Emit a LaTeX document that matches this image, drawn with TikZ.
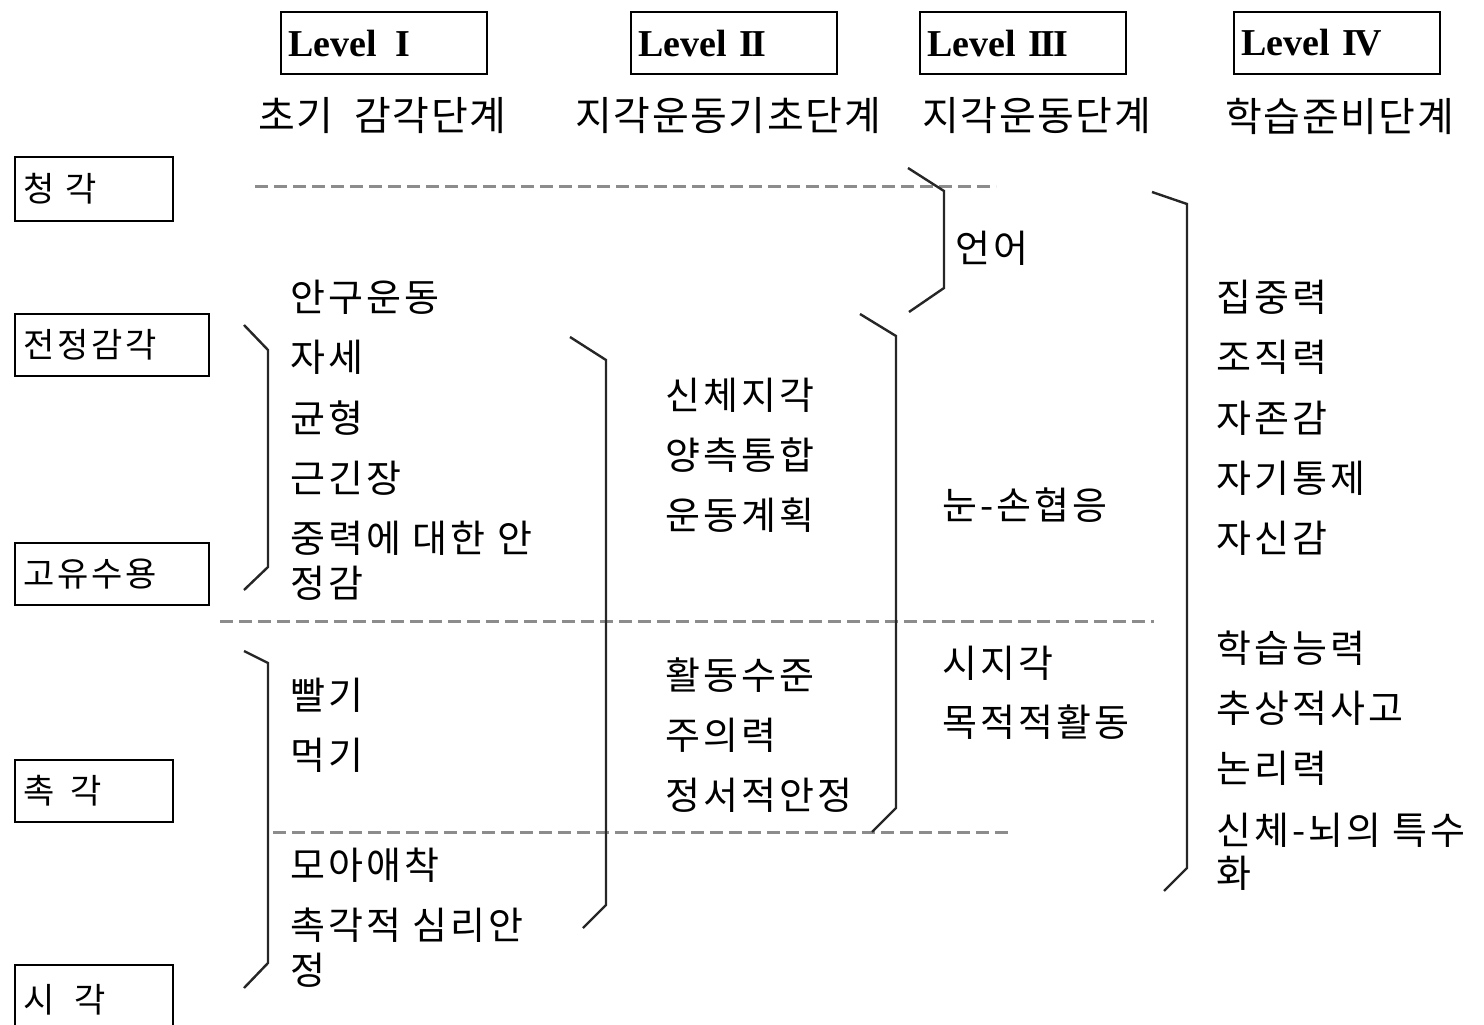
\documentclass[tikz,border=0pt]{standalone}
\usepackage{fontspec}
\setmainfont{Liberation Serif}
\newfontfamily\krb[WordSpace=2.2,LetterSpace=8]{Noto Sans CJK KR}
\newfontfamily\krh[WordSpace=2,LetterSpace=4]{Noto Sans CJK KR}
\newfontfamily\krs[LetterSpace=8]{Noto Sans CJK KR}
\begin{document}
\begin{tikzpicture}[x=1pt,y=-1pt,
  lvbox/.style={draw, line width=2.2pt, anchor=north west, minimum width=206pt, minimum height=62pt,
    text width=192pt, align=left, inner xsep=7pt, inner ysep=0pt,
    font=\bfseries\fontsize{38}{38}\selectfont},
  sbox/.style={draw, line width=2.2pt, anchor=north west, minimum height=64pt,
    align=left, inner xsep=8pt, inner ysep=0pt, font=\krs\fontsize{34}{34}\selectfont},
  hdr/.style={anchor=west, inner sep=0pt, font=\krh\fontsize{40}{40}\selectfont},
  body/.style={anchor=west, inner sep=0pt, font=\krb\fontsize{38}{38}\selectfont},
  dline/.style={draw=black!45, line width=3pt, dash pattern=on 13pt off 6pt},
  brk/.style={draw=black!85, line width=2.4pt, line join=miter}]
\useasboundingbox (0,0) rectangle (1484,1025);

% level boxes
\node[lvbox] (L1) at (280,11) {Level\hspace{0.5em}I};
\node[lvbox] (L2) at (630,11) {Level I\kern-0.06em I};
\node[lvbox] (L3) at (919,11) {Level I\kern-0.06em I\kern-0.06em I};
\node[lvbox] (L4) at (1233,11) {Level I\kern-0.08em V};

% headers
\node[hdr] (H1) at (258,116) {초기 감각단계};
\node[hdr] (H2) at (575,116) {지각운동기초단계};
\node[hdr] (H3) at (922,116) {지각운동단계};
\node[hdr] (H4) at (1225,116) {학습준비단계};

% sense boxes
\node[sbox, text width=142pt] (S1) at (14,156) {청 각};
\node[sbox, text width=178pt, minimum height=62pt] (S2) at (14,313) {전정감각};
\node[sbox, text width=178pt, minimum height=62pt] (S3) at (14,542) {고유수용};
\node[sbox, text width=142pt, minimum height=62pt] (S4) at (14,759) {촉\hspace{16pt}각};
\node[sbox, text width=142pt, minimum height=70pt] (S5) at (14,964) {시\hspace{20pt}각};

% dashed lines
\coordinate (d1a) at (255,186); \coordinate (d1b) at (996,186);
\coordinate (d2a) at (220,621); \coordinate (d2b) at (1154,621);
\coordinate (d3a) at (273,832); \coordinate (d3b) at (1013,832);
\draw[dline] (d1a) -- (d1b);
\draw[dline] (d2a) -- (d2b);
\draw[dline] (d3a) -- (d3b);

% brackets
\coordinate (a1) at (244,325); \coordinate (a2) at (268,350);
\coordinate (a3) at (268,567); \coordinate (a4) at (244,590);
\draw[brk] (a1) -- (a2) -- (a3) -- (a4);
\coordinate (b1) at (244,651); \coordinate (b2) at (268,663);
\coordinate (b3) at (268,963); \coordinate (b4) at (244,988);
\draw[brk] (b1) -- (b2) -- (b3) -- (b4);
\coordinate (c1) at (570,337); \coordinate (c2) at (606,360);
\coordinate (c3) at (606,905); \coordinate (c4) at (583,928);
\draw[brk] (c1) -- (c2) -- (c3) -- (c4);
\coordinate (e1) at (860,314); \coordinate (e2) at (896,336);
\coordinate (e3) at (896,808); \coordinate (e4) at (872,832);
\draw[brk] (e1) -- (e2) -- (e3) -- (e4);
\coordinate (f1) at (908,168); \coordinate (f2) at (944,191);
\coordinate (f3) at (944,288); \coordinate (f4) at (909,312);
\draw[brk] (f1) -- (f2) -- (f3) -- (f4);
\coordinate (g1) at (1152,192); \coordinate (g2) at (1187,204);
\coordinate (g3) at (1187,868); \coordinate (g4) at (1164,891);
\draw[brk] (g1) -- (g2) -- (g3) -- (g4);

% Level I texts
\node[body] (t1) at (290,297) {안구운동};
\node[body] (t2) at (290,357) {자세};
\node[body] (t3) at (290,418) {균형};
\node[body] (t4) at (290,478) {근긴장};
\node[body] (t5) at (290,538) {중력에 대한 안};
\node[body] (t6) at (290,583) {정감};
\node[body] (t7) at (290,695) {빨기};
\node[body] (t8) at (290,755) {먹기};
\node[body] (t9) at (290,865) {모아애착};
\node[body] (t10) at (290,925) {촉각적 심리안};
\node[body] (t11) at (290,970) {정};

% Level II texts
\node[body] (u1) at (665,395) {신체지각};
\node[body] (u2) at (665,455) {양측통합};
\node[body] (u3) at (665,515) {운동계획};
\node[body] (u4) at (665,675) {활동수준};
\node[body] (u5) at (665,735) {주의력};
\node[body] (u6) at (665,795) {정서적안정};

% Level III texts
\node[body] (v1) at (955,248) {언어};
\node[body] (v2) at (942,505) {눈-손협응};
\node[body] (v3) at (942,663) {시지각};
\node[body] (v4) at (942,722) {목적적활동};

% Level IV texts
\node[body] (w1) at (1216,297) {집중력};
\node[body] (w2) at (1216,357) {조직력};
\node[body] (w3) at (1216,418) {자존감};
\node[body] (w4) at (1216,478) {자기통제};
\node[body] (w5) at (1216,538) {자신감};
\node[body] (w6) at (1216,648) {학습능력};
\node[body] (w7) at (1216,708) {추상적사고};
\node[body] (w8) at (1216,768) {논리력};
\node[body] (w9) at (1216,830) {신체-뇌의 특수};
\node[body] (w10) at (1216,873) {화};
\end{tikzpicture}
\end{document}
